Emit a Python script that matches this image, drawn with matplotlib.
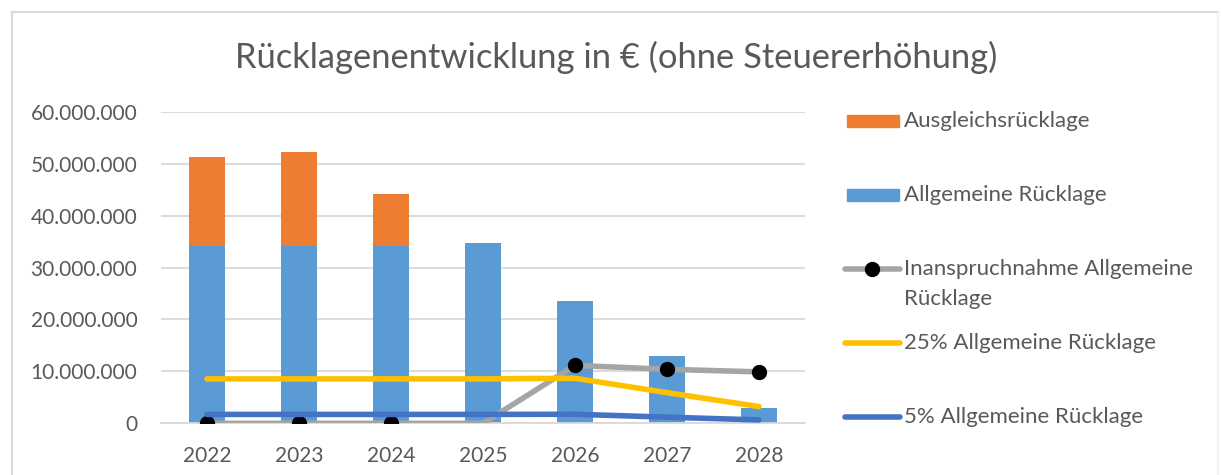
import matplotlib.pyplot as plt
from matplotlib.lines import Line2D
from matplotlib.patches import Rectangle
from matplotlib.ticker import FuncFormatter, MultipleLocator
import numpy as np

plt.rcParams['font.family'] = ['Lato', 'DejaVu Sans']

# Daten (Euro)
jahre = ['2022', '2023', '2024', '2025', '2026', '2027', '2028']
allgemeine = [34200000, 34200000, 34200000, 34700000, 23500000, 12950000, 2900000]
ausgleich = [17000000, 18000000, 10000000, 0, 0, 0, 0]
inanspruchnahme = [0, 0, 0, 0, 11150000, 10400000, 9900000]
proz25 = [8550000, 8550000, 8550000, 8550000, 8670000, 5900000, 3220000]
proz5 = [1710000, 1710000, 1710000, 1710000, 1740000, 1180000, 650000]

c_blau = '#5B9BD5'
c_orange = '#ED7D31'
c_grau = '#A5A5A5'
c_gelb = '#FFC000'
c_dunkelblau = '#4472C4'
c_text = '#595959'
c_gitter = '#D9D9D9'

W, H = 1221, 475
fig = plt.figure(figsize=(W / 100, H / 100), dpi=100)
ax = fig.add_axes([161 / W, 1 - 423.3 / H, (805 - 161) / W, (423.3 - 111.7) / H])

x = np.arange(len(jahre))
ax.bar(x, allgemeine, width=0.4, color=c_blau, zorder=2)
ax.bar(x, ausgleich, width=0.4, bottom=allgemeine, color=c_orange, zorder=2)

ax.plot(x, inanspruchnahme, color=c_grau, lw=4, solid_capstyle='round', zorder=3,
        marker='o', markersize=10, markerfacecolor='black', markeredgecolor='black',
        markevery=[0, 1, 2, 4, 5, 6])
ax.plot(x, proz25, color=c_gelb, lw=4, solid_capstyle='round', zorder=4)
ax.plot(x, proz5, color=c_dunkelblau, lw=4, solid_capstyle='round', zorder=5)

ax.set_xlim(-0.5, len(jahre) - 0.5)
ax.set_ylim(0, 60000000)
ax.yaxis.set_major_locator(MultipleLocator(10000000))
ax.yaxis.set_major_formatter(FuncFormatter(lambda v, p: f"{int(v):,}".replace(",", ".")))
ax.set_xticks(x)
ax.set_xticklabels(jahre)
ax.grid(axis='y', color=c_gitter, lw=1.3, zorder=0)
for s in ['top', 'right', 'left']:
    ax.spines[s].set_visible(False)
ax.spines['bottom'].set_color(c_gitter)
ax.spines['bottom'].set_linewidth(1.3)
ax.tick_params(length=0, labelsize=15, colors=c_text)
ax.tick_params(axis='y', pad=17)
ax.tick_params(axis='x', pad=16)

fig.text(616 / W, 1 - 57 / H, 'Rücklagenentwicklung in € (ohne Steuererhöhung)',
         ha='center', va='center', fontsize=24.8, color=c_text)

# Rahmen
fig.add_artist(Line2D([12 / W, 12 / W], [0, 1 - 12 / H], color=c_gitter, lw=1.5))
fig.add_artist(Line2D([12 / W, 1218 / W], [1 - 12 / H, 1 - 12 / H], color=c_gitter, lw=1.5))
fig.add_artist(Line2D([1218 / W, 1218 / W], [0, 1 - 12 / H], color='#EFEFEF', lw=1.2))

# Legende
def fy(py):
    return 1 - py / H

x0, x1, xt = 847 / W, 899 / W, 904 / W
fig.add_artist(Rectangle((x0, fy(121 + 6)), x1 - x0, 12 / H, color=c_orange))
fig.add_artist(Rectangle((x0, fy(195 + 6)), x1 - x0, 12 / H, color=c_blau))
fig.add_artist(Line2D([845 / W, 900 / W], [fy(269), fy(269)], color=c_grau, lw=4,
                      solid_capstyle='round'))
fig.add_artist(Line2D([872 / W], [fy(269)], marker='o', markersize=10, color='black'))
fig.add_artist(Line2D([845 / W, 900 / W], [fy(343), fy(343)], color=c_gelb, lw=4,
                      solid_capstyle='round'))
fig.add_artist(Line2D([845 / W, 900 / W], [fy(417), fy(417)], color=c_dunkelblau, lw=4,
                      solid_capstyle='round'))
leg = [('Ausgleichsrücklage', 121), ('Allgemeine Rücklage', 195),
       ('Inanspruchnahme Allgemeine', 269), ('Rücklage', 299),
       ('25% Allgemeine Rücklage', 343), ('5% Allgemeine Rücklage', 417)]
for t, py in leg:
    fig.text(xt, fy(py), t, ha='left', va='center', fontsize=16, color=c_text)

fig.savefig('out.png', dpi=100)
